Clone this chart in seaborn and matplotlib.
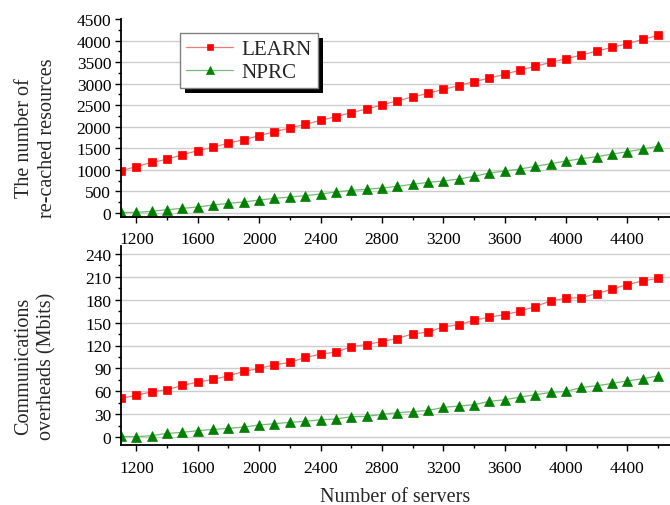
import numpy as np
import pandas as pd
import matplotlib
matplotlib.use("Agg")
import matplotlib.pyplot as plt
from matplotlib.ticker import MultipleLocator
from matplotlib.patches import Rectangle
from matplotlib.transforms import IdentityTransform
import seaborn as sns

servers = list(range(1100, 4700, 100))

learn_recached = [982, 1074, 1175, 1245, 1353, 1446, 1523, 1623, 1700, 1793, 1886, 1971,
                  2056, 2149, 2234, 2327, 2412, 2505, 2605, 2690, 2775, 2868, 2953, 3046,
                  3131, 3216, 3316, 3401, 3494, 3579, 3664, 3757, 3842, 3927, 4027, 4120]
nprc_recached = [15, 15, 39, 77, 108, 139, 186, 224, 255, 301, 340, 371,
                 402, 441, 487, 526, 549, 580, 618, 665, 711, 742, 788, 850,
                 928, 974, 1020, 1082, 1144, 1206, 1260, 1306, 1368, 1422, 1484, 1546]

learn_comm = [50.9, 54.8, 59.6, 62.2, 67.8, 72.2, 75.7, 80.4, 86.1, 90.0, 94.8, 97.8,
              104.4, 108.7, 111.3, 118.3, 121.3, 125.2, 129.1, 135.2, 137.4, 144.4, 147.0, 153.0,
              157.0, 160.4, 164.8, 170.9, 178.3, 181.7, 182.6, 187.8, 193.5, 199.6, 204.4, 207.8]
nprc_comm = [1.3, 0.9, 2.2, 5.2, 6.5, 8.7, 10.4, 11.7, 13.5, 16.1, 17.8, 19.6,
             20.9, 23.0, 23.9, 27.0, 27.4, 30.0, 32.2, 33.5, 35.2, 39.1, 40.9, 42.6,
             47.0, 49.1, 52.6, 55.7, 58.7, 60.0, 65.2, 67.4, 70.4, 73.9, 76.5, 80.4]

methods = ["LEARN", "NPRC"]
x_ticks = [1200, 1600, 2000, 2400, 2800, 3200, 3600, 4000, 4400]
top_yticks = list(range(0, 4501, 500))
bot_yticks = list(range(0, 241, 30))

sns.set_theme(style="white")
plt.rcParams["font.family"] = ["Liberation Serif", "DejaVu Serif"]

marker_colors = {"LEARN": "#ff0000", "NPRC": "#008000"}
line_colors = {"LEARN": "#ee7b7b", "NPRC": "#78b878"}
markers = {"LEARN": "s", "NPRC": "^"}
msizes = {"LEARN": 6.2, "NPRC": 7.2}

def long_df(a, b):
    return pd.DataFrame({
        "servers": servers * 2,
        "value": list(a) + list(b),
        "method": [methods[0]] * len(a) + [methods[1]] * len(b),
    })

fig = plt.figure(figsize=(6.7, 5.06), dpi=100)
W, H = 670, 506
ax1 = fig.add_axes([121 / W, 1 - 217.5 / H, (W - 121) / W, (217.5 - 20) / H])
ax2 = fig.add_axes([121 / W, 1 - 446 / H, (W - 121) / W, (446 - 247) / H])

def draw(ax, a, b):
    df = long_df(a, b)
    sns.lineplot(data=df, x="servers", y="value", hue="method", style="method",
                 markers=markers, dashes=False, palette=marker_colors, ax=ax,
                 legend=False)
    lines = ax.get_lines()[:2]
    for ln, m in zip(lines, methods):
        ln.set_color(line_colors[m])
        ln.set_linewidth(0.9)
        ln.set_markerfacecolor(marker_colors[m])
        ln.set_markeredgecolor(marker_colors[m])
        ln.set_markersize(msizes[m])
        ln.set_markeredgewidth(0.5)
    return lines

lines = draw(ax1, learn_recached, nprc_recached)
draw(ax2, learn_comm, nprc_comm)

for ax in (ax1, ax2):
    ax.set_xlim(1100, 4677)
    ax.set_xticks(x_ticks)
    ax.xaxis.set_minor_locator(MultipleLocator(200))
    for s in ("top", "right"):
        ax.spines[s].set_visible(False)
    for s in ("left", "bottom"):
        ax.spines[s].set_color("black")
        ax.spines[s].set_linewidth(1.3)
    ax.tick_params(axis="both", which="major", direction="out", length=4.5, width=1,
                   color="black", labelsize=12.5, labelcolor="black", pad=2.5,
                   bottom=True, left=True)
    ax.tick_params(axis="x", which="major", pad=6)
    ax.tick_params(axis="both", which="minor", direction="out", length=2.3, width=1,
                   color="black", bottom=True, left=True)
    ax.set_xlabel("")
    ax.set_ylabel("")
    ax.set_facecolor("white")

ax1.set_ylim(-81, 4500)
ax1.set_yticks(top_yticks)
ax1.yaxis.set_minor_locator(MultipleLocator(250))
ax2.set_ylim(-10, 250)
ax2.set_yticks(bot_yticks)
ax2.yaxis.set_minor_locator(MultipleLocator(15))

for ax in (ax1, ax2):
    ax.yaxis.grid(True, color="#cccccc", linewidth=1)
    ax.xaxis.grid(False)
    ax.set_axisbelow(True)
gl = ax1.get_ygridlines()
gl[-1].set_visible(False)

ax1.set_ylabel("The number of\nre-cached resources", fontsize=14.5, linespacing=1.3)
ax2.set_ylabel("Communications\noverheads (Mbits)", fontsize=14.5, linespacing=1.3)
ax1.yaxis.set_label_coords(-0.117, 0.40)
ax2.yaxis.set_label_coords(-0.117, 0.40)
ax2.set_xlabel("Number of servers", fontsize=14.5, labelpad=8)

leg = ax1.legend(handles=lines, labels=methods, loc="upper left",
                 bbox_to_anchor=(0.1075, 0.929), borderaxespad=0,
                 fontsize=15.2, frameon=True, fancybox=False, framealpha=1,
                 edgecolor="#808080", handlelength=2.2, handletextpad=0.4,
                 labelspacing=0.15, borderpad=0.3, markerscale=0.75)
leg.get_frame().set_linewidth(1.0)
leg.set_zorder(6)

fig.canvas.draw()
bb = leg.get_window_extent()
shadow = Rectangle((bb.x0 + 5, bb.y0 - 5), bb.width, bb.height, transform=IdentityTransform(),
                   facecolor="black", edgecolor="none", zorder=5.9, clip_on=False)
ax1.add_artist(shadow)

fig.savefig("out.png", dpi=100)
